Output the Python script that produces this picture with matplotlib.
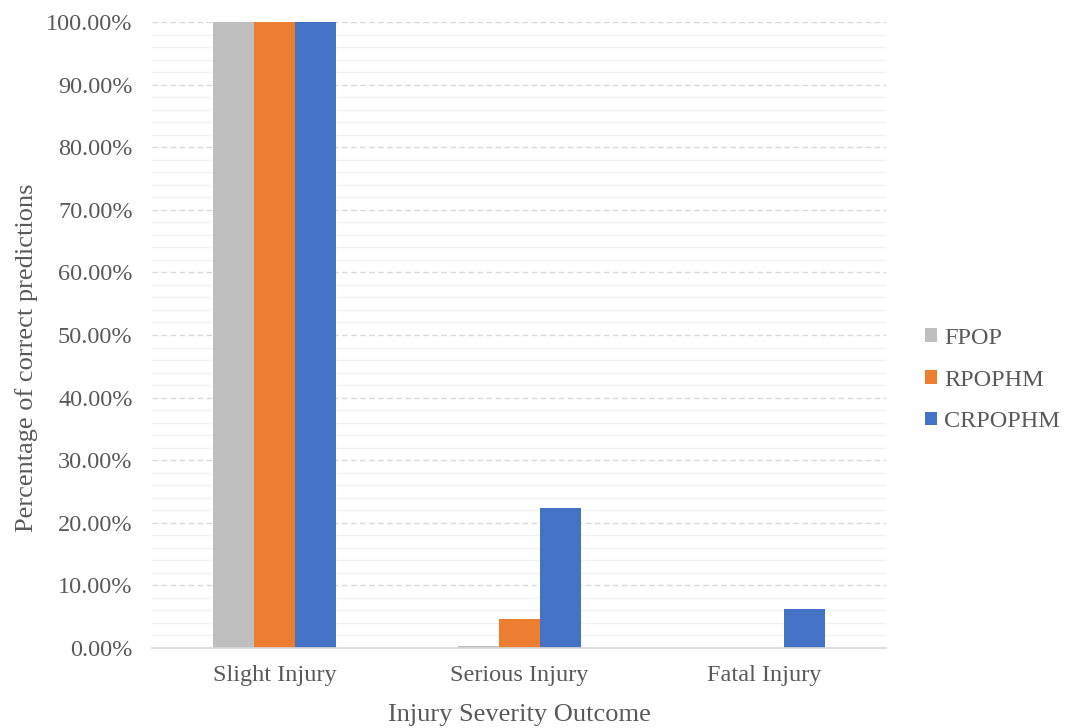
import matplotlib
matplotlib.use("Agg")
import matplotlib.pyplot as plt
import numpy as np
from matplotlib.ticker import MultipleLocator, PercentFormatter
from matplotlib.patches import Patch

plt.rcParams['font.family'] = ['Liberation Serif', 'DejaVu Serif']

categories = ["Slight Injury", "Serious Injury", "Fatal Injury"]
series_names = ["FPOP", "RPOPHM", "CRPOPHM"]
fpop = [100.0, 0.3, 0.0]
rpophm = [100.0, 4.7, 0.0]
crpophm = [100.0, 22.4, 6.2]
colors = ["#BFBFBF", "#ED7D31", "#4472C4"]

text_color = "#595959"

fig = plt.figure(figsize=(10.67, 7.28), dpi=100)
ax = fig.add_axes([0.1425, 0.1099, 0.6879, 0.8599])

x = np.arange(len(categories))
bar_w = 0.1676
for i, (vals, col) in enumerate(zip([fpop, rpophm, crpophm], colors)):
    ax.bar(x + (i - 1) * bar_w, vals, width=bar_w, color=col, label=series_names[i],
           zorder=3, linewidth=0)

ax.set_xlim(-0.5, 2.5)
ax.set_ylim(0, 100)
ax.yaxis.set_major_locator(MultipleLocator(10))
ax.yaxis.set_minor_locator(MultipleLocator(2))
ax.yaxis.set_major_formatter(PercentFormatter(decimals=2))
ax.set_xticks(x)
ax.set_xticklabels(categories)

ax.grid(which='major', axis='y', color='#D9D9D9', linestyle=(0, (4, 2.5)), linewidth=1.0, zorder=1)
ax.grid(which='minor', axis='y', color='#F2F2F2', linestyle='-', linewidth=1.0, zorder=0)

for s in ['top', 'right', 'left']:
    ax.spines[s].set_visible(False)
ax.spines['bottom'].set_color('#D9D9D9')
ax.spines['bottom'].set_linewidth(1.2)
ax.spines['bottom'].set_zorder(4)

ax.tick_params(axis='both', which='both', length=0, labelsize=17.5, colors=text_color)
ax.tick_params(axis='y', pad=14)
ax.tick_params(axis='x', pad=12)

ax.set_xlabel("Injury Severity Outcome", fontsize=19, color=text_color)
ax.xaxis.set_label_coords(0.5, -0.09)
ax.set_ylabel("Percentage of correct predictions", fontsize=19, color=text_color)
ax.yaxis.set_label_coords(-0.156, 0.464)

handles = [Patch(facecolor=c, edgecolor='none') for c in colors]
leg = fig.legend(handles, series_names, loc='center left', bbox_to_anchor=(0.846, 0.478),
                 frameon=False, fontsize=17.5, labelcolor=text_color,
                 handlelength=0.5, handleheight=0.5, handletextpad=0.3, labelspacing=0.85)

fig.savefig("out.png", dpi=100)
